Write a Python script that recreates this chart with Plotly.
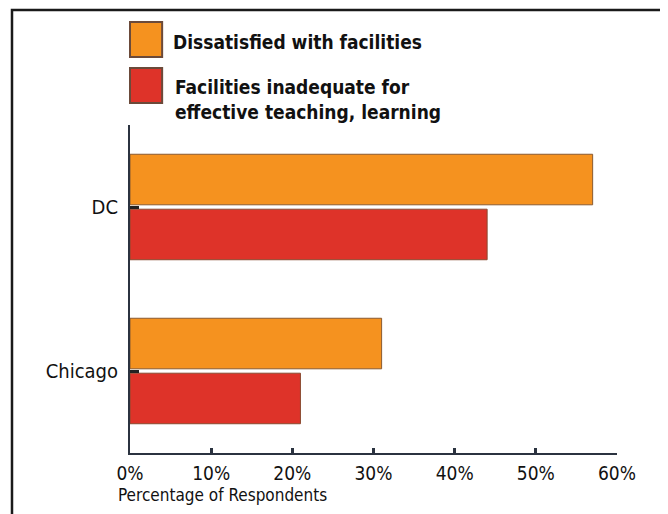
import plotly.graph_objects as go

# 数据
cities = ["Chicago", "DC"]
dissatisfied = [31, 57]
inadequate = [21, 44]
series_names = ["Dissatisfied with facilities",
                "Facilities inadequate for<br>effective teaching, learning"]
series_colors = ["#F5921F", "#DE3329"]
x_ticks = [0, 10, 20, 30, 40, 50, 60]
x_tick_text = ["0%", "10%", "20%", "30%", "40%", "50%", "60%"]

FONT = "Liberation Sans Narrow, DejaVu Sans Condensed, Arial Narrow, sans-serif"

fig = go.Figure()

# 红色在下, 橙色在上 (水平分组柱中第一条在下方)
fig.add_trace(go.Bar(
    y=cities, x=inadequate, orientation="h", name=series_names[1],
    marker=dict(color=series_colors[1], line=dict(color="#8a4a30", width=1)),
    showlegend=False
))
fig.add_trace(go.Bar(
    y=cities, x=dissatisfied, orientation="h", name=series_names[0],
    marker=dict(color=series_colors[0], line=dict(color="#8a5a30", width=1)),
    showlegend=False
))

# 图例 (手动)
swatch_y = [(1.207, 1.314), (1.067, 1.174)]
for (y0, y1), col in zip(swatch_y, series_colors):
    fig.add_shape(type="rect", xref="paper", yref="paper",
                  x0=0.0, x1=0.066, y0=y0, y1=y1,
                  fillcolor=col, line=dict(color="#6b4a3a", width=2))
fig.add_annotation(xref="paper", yref="paper", x=0.085, y=1.253,
                   text="<b>" + series_names[0] + "</b>", showarrow=False,
                   xanchor="left", yanchor="middle", align="left",
                   font=dict(family=FONT, size=19, color="#111"))
fig.add_annotation(xref="paper", yref="paper", x=0.088, y=1.079,
                   text="<b>" + series_names[1] + "</b>", showarrow=False,
                   xanchor="left", yanchor="middle", align="left",
                   font=dict(family=FONT, size=19, color="#111"))

# 轴标题
fig.add_annotation(xref="paper", yref="paper", x=-0.029, y=-0.128,
                   text="Percentage of Respondents", showarrow=False,
                   xanchor="left", yanchor="middle",
                   font=dict(family=FONT, size=17, color="#111"))

# 外框
fig.add_shape(type="rect", xref="paper", yref="paper",
              x0=-0.2423, x1=1.0965, y0=-0.4, y1=1.3506,
              line=dict(color="#1a1a1a", width=2.5))

# 页面有 8px 的 body 边距, 图整体缩小 8px
fig.update_layout(
    width=660, height=506,
    margin=dict(l=122, r=51, t=117, b=61),
    barmode="group", bargap=0.33, bargroupgap=0.08,
    plot_bgcolor="white", paper_bgcolor="white",
    font=dict(family=FONT, color="#111"),
)
fig.update_xaxes(range=[0, 60], tickvals=x_ticks, ticktext=x_tick_text,
                 showgrid=False, zeroline=False,
                 showline=True, linecolor="#2b3340", linewidth=2,
                 ticks="inside", ticklen=5, tickwidth=3, tickcolor="#2b3340",
                 tickfont=dict(size=19), ticklabelstandoff=2)
fig.update_yaxes(showgrid=False, zeroline=False,
                 showline=True, linecolor="#2b3340", linewidth=2,
                 ticks="inside", ticklen=9, tickwidth=3, tickcolor="#222",
                 tickfont=dict(size=20), ticklabelstandoff=6)

fig.write_html("out.html")
